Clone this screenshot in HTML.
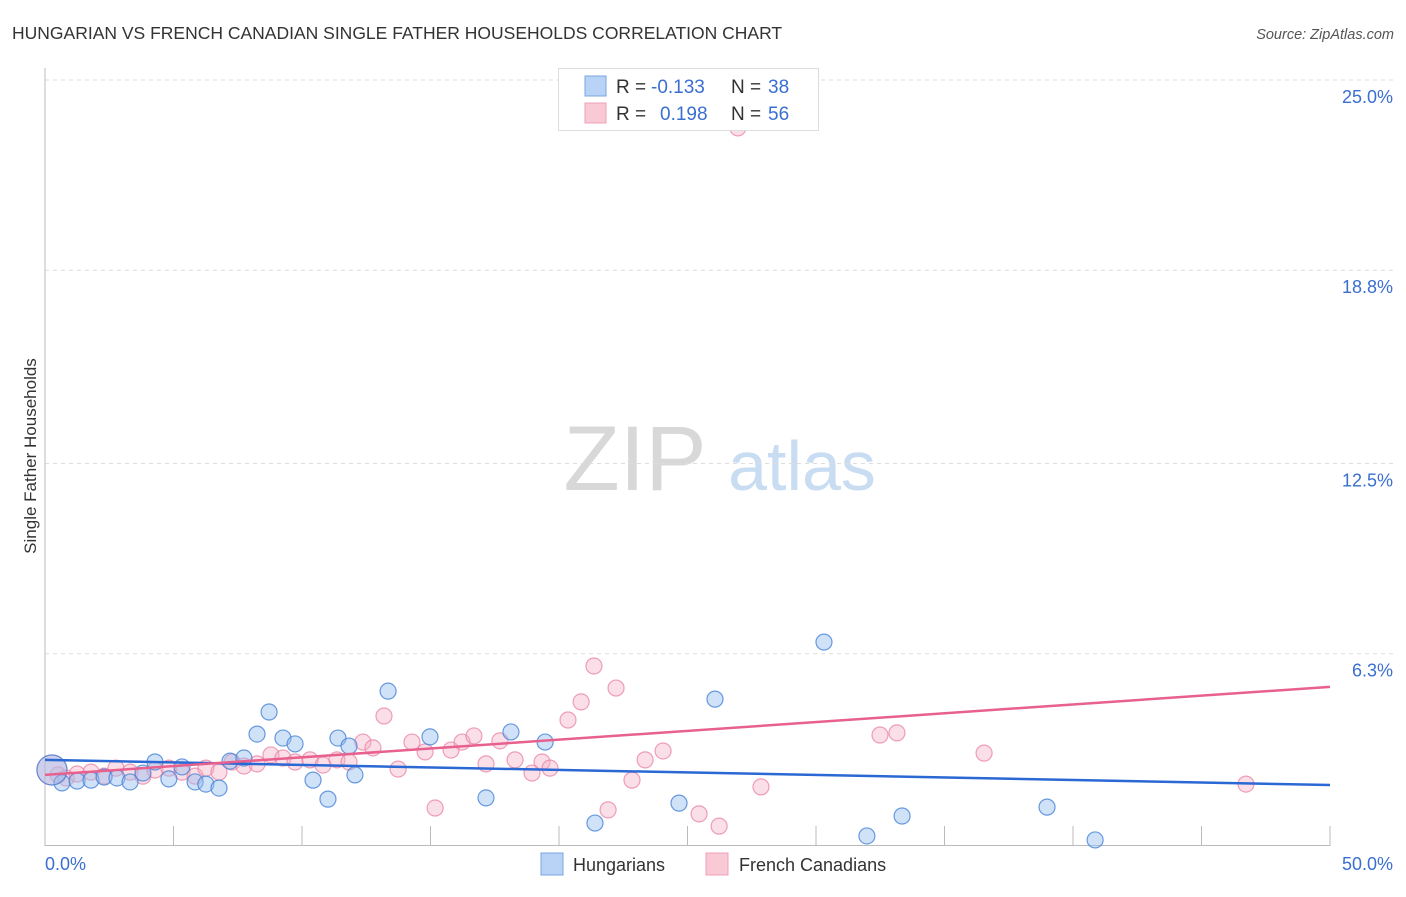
<!DOCTYPE html>
<html><head><meta charset="utf-8"><style>
body{margin:0;background:#fff;font-family:"Liberation Sans",sans-serif;}
svg text{font-family:"Liberation Sans",sans-serif;}
</style></head><body>
<svg id="chart" width="1406" height="892" xmlns="http://www.w3.org/2000/svg">
<text x="12" y="39" font-size="17.5" fill="#333">HUNGARIAN VS FRENCH CANADIAN SINGLE FATHER HOUSEHOLDS CORRELATION CHART</text>
<text x="1394" y="39" font-size="14.5" fill="#555" font-style="italic" text-anchor="end">Source: ZipAtlas.com</text>
<g>
<text x="635" y="490" font-size="92" fill="#d8d8d8" font-family="Liberation Serif" text-anchor="middle">ZIP</text>
<text x="802" y="490" font-size="70" fill="#c8dcf2" text-anchor="middle">atlas</text>
</g>
<g id="grid"></g>
<g id="axes"></g>
<g id="lines"></g>
<g id="pts"></g>
<text x="36" y="456" font-size="17" fill="#333" text-anchor="middle" transform="rotate(-90 36 456)">Single Father Households</text>
<text x="45" y="870" font-size="18" fill="#3a6fd0">0.0%</text>
<text x="1393" y="870" font-size="18" fill="#3a6fd0" text-anchor="end">50.0%</text>
<g>
<rect x="558.5" y="68.5" width="260" height="62" fill="#fff" stroke="#ddd"/>
<rect x="585" y="76" width="21" height="20" fill="#b8d3f5" stroke="#7aa6e0"/>
<rect x="585" y="103" width="21" height="20" fill="#f9c9d6" stroke="#eea0b8"/>
<text x="616" y="93" font-size="19" fill="#333">R =</text>
<text x="651" y="93" font-size="19" fill="#3a6fd0">-0.133</text>
<text x="731" y="93" font-size="19" fill="#333">N =</text>
<text x="768" y="93" font-size="19" fill="#3a6fd0">38</text>
<text x="616" y="120" font-size="19" fill="#333">R =</text>
<text x="660" y="120" font-size="19" fill="#3a6fd0">0.198</text>
<text x="731" y="120" font-size="19" fill="#333">N =</text>
<text x="768" y="120" font-size="19" fill="#3a6fd0">56</text>
</g>
<g>
<rect x="541" y="853" width="22" height="22" fill="#b8d3f5" stroke="#7aa6e0"/>
<text x="573" y="871" font-size="18" fill="#333">Hungarians</text>
</g>
<g>
<rect x="706" y="853" width="22" height="22" fill="#f9c9d6" stroke="#eea0b8"/>
<text x="739" y="871" font-size="18" fill="#333">French Canadians</text>
</g>
</svg>
<script>
const yTicks=[6.3,12.5,18.8,25.0];
const yTickLabels=["6.3%","12.5%","18.8%","25.0%"];
const hunX=[0.66,1.25,1.79,2.30,2.80,3.31,3.81,4.28,4.82,5.33,5.84,6.26,6.77,7.20,7.74,8.25,8.72,9.26,9.73,10.43,11.01,11.40,11.83,12.06,13.35,14.98,17.16,18.13,19.46,21.40,24.67,26.07,30.31,31.98,33.35,38.99,40.86,0.27];
const hunY=[2.09,2.15,2.18,2.28,2.25,2.12,2.41,2.77,2.22,2.61,2.12,2.05,1.92,2.80,2.90,3.68,4.40,3.55,3.36,2.18,1.56,3.55,3.29,2.35,5.08,3.59,1.60,3.75,3.42,0.78,1.43,4.82,6.68,0.36,1.01,1.30,0.23,2.51];
const frX=[0.51,0.82,1.25,1.79,2.30,2.76,3.31,3.81,4.28,4.82,5.33,5.84,6.26,6.77,7.28,7.74,8.25,8.79,9.26,9.73,10.31,10.82,11.36,11.83,12.37,12.76,13.19,13.74,14.28,14.79,15.18,15.80,16.23,16.69,17.16,17.70,18.29,18.95,19.34,19.65,20.35,20.86,21.36,21.91,22.22,22.84,23.35,24.05,25.45,26.23,26.96,27.86,32.49,33.15,36.54,46.73,0.27];
const frY=[2.35,2.25,2.38,2.44,2.31,2.57,2.44,2.31,2.51,2.57,2.44,2.31,2.57,2.44,2.77,2.64,2.71,3.00,2.90,2.77,2.84,2.67,2.84,2.77,3.42,3.23,4.27,2.54,3.42,3.10,1.27,3.16,3.42,3.62,2.71,3.46,2.84,2.41,2.77,2.57,4.14,4.73,5.90,1.21,5.18,2.18,2.84,3.13,1.08,0.68,23.44,1.96,3.65,3.72,3.06,2.05,2.51];
const hunTrend=[2.84,2.02];
const frTrend=[2.35,5.22];
const trendX=[0,50];
const NS="http://www.w3.org/2000/svg";
const X=v=>45+v*(1330-45)/50;
const Y=v=>847-v*30.68;
function mk(tag,attrs,parent){const e=document.createElementNS(NS,tag);for(const k in attrs)e.setAttribute(k,attrs[k]);parent.appendChild(e);return e;}
const grid=document.getElementById('grid');
yTicks.forEach((t,i)=>{
  const l=mk('line',{x1:45,x2:1393,y1:Y(t),y2:Y(t),stroke:'#ddd','stroke-dasharray':'4,4'},grid);
  
  
  const tx=mk('text',{x:1393,y:Y(t)+23,'font-size':18,fill:'#3a6fd0','text-anchor':'end'},grid);
  tx.textContent=yTickLabels[i];
  
  
});
const axes=document.getElementById('axes');
mk('line',{x1:45,x2:45,y1:68,y2:846,stroke:'#bbb'},axes);
mk('line',{x1:45,x2:1330,y1:845.5,y2:845.5,stroke:'#bbb'},axes);
for(let k=1;k<=10;k++){
  const t=mk('line',{x1:X(k*5),x2:X(k*5),y1:826,y2:846,stroke:'#bbb'},axes);
  
  
}
const pts=document.getElementById('pts');
function dots(xs,ys,fill,stroke,name){
  xs.forEach((x,i)=>{
    const big=(i===xs.length-1);
    const c=mk('circle',{cx:X(x),cy:Y(ys[i]),r:big?15:8,fill:fill,stroke:stroke,'stroke-width':1.2},pts);
    
    
  });
}
dots(frX,frY,'rgba(246,176,198,0.4)','rgba(232,130,162,0.75)','french-canadian-point');
dots(hunX,hunY,'rgba(150,190,240,0.45)','rgba(70,130,215,0.8)','hungarian-point');
const lines=document.getElementById('lines');
const lb=mk('line',{x1:X(trendX[0]),x2:X(trendX[1]),y1:Y(hunTrend[0]),y2:Y(hunTrend[1]),stroke:'#2a68d4','stroke-width':2.5},lines);


const lp=mk('line',{x1:X(trendX[0]),x2:X(trendX[1]),y1:Y(frTrend[0]),y2:Y(frTrend[1]),stroke:'#e8608e','stroke-width':2.5},lines);


document.getElementById('chart').appendChild(lines);
</script>
</body></html>
